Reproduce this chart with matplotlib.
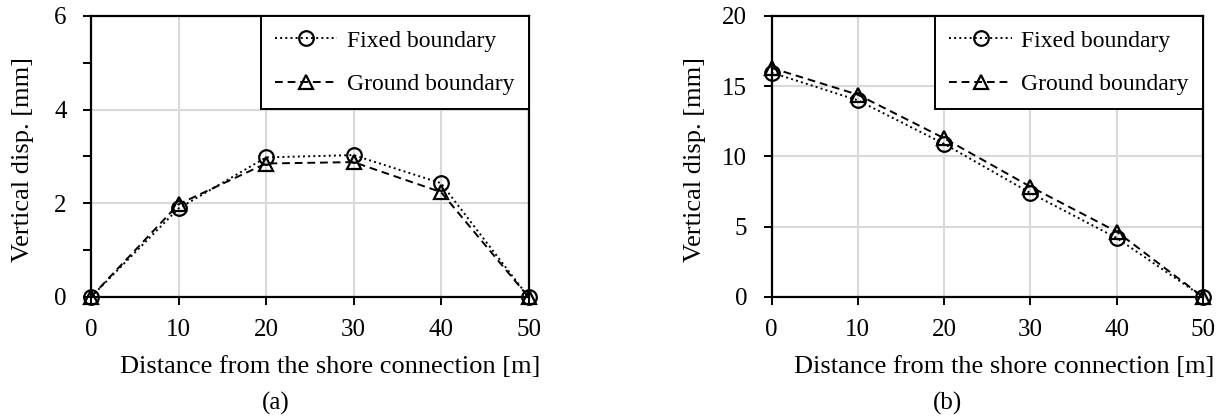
import numpy as np
import matplotlib
matplotlib.use("Agg")
import matplotlib.pyplot as plt
from matplotlib.ticker import MultipleLocator

plt.rcParams["font.family"] = ["Liberation Serif", "DejaVu Serif"]
plt.rcParams["font.size"] = 18

# distance from shore connection [m]
distance = [0, 10, 20, 30, 40, 50]

# (a) vertical displacement [mm]
fixed_a = [0.0, 1.89, 2.98, 3.03, 2.43, 0.0]
ground_a = [0.0, 1.98, 2.85, 2.88, 2.24, 0.0]

# (b) vertical displacement [mm]
fixed_b = [15.97, 14.0, 10.9, 7.4, 4.2, 0.0]
ground_b = [16.3, 14.4, 11.3, 7.85, 4.65, 0.0]

xlabel = "Distance from the shore connection [m]"
ylabel = "Vertical disp. [mm]"


def draw_panel(ax, fixed, ground, ymax, ystep, yminor=None, ylab_x=-0.16):
    ax.plot(distance, fixed, linestyle=":", color="black", lw=1.4,
            marker="o", markersize=10.5, markerfacecolor="none",
            markeredgewidth=1.6, label="Fixed boundary", clip_on=False, zorder=4)
    ax.plot(distance, ground, linestyle=(0, (4, 2.5)), color="black", lw=1.4,
            marker="^", markersize=10.5, markerfacecolor="none",
            markeredgewidth=1.6, label="Ground boundary", clip_on=False, zorder=4)
    ax.set_xlim(0, 50)
    ax.set_ylim(0, ymax)
    ax.xaxis.set_major_locator(MultipleLocator(10))
    ax.yaxis.set_major_locator(MultipleLocator(ystep))
    if yminor:
        ax.yaxis.set_minor_locator(MultipleLocator(yminor))
    ax.grid(True, color="#d9d9d9", lw=1.5, zorder=0)
    ax.set_axisbelow(True)
    for s in ax.spines.values():
        s.set_linewidth(1.6)
        s.set_color("black")
    ax.tick_params(which="both", direction="out", length=6, width=1.4, labelsize=18)
    ax.tick_params(axis="x", pad=10)
    ax.tick_params(axis="y", pad=11.5)
    ax.set_ylabel(ylabel, fontsize=19)
    ax.yaxis.label.set_va("center")
    ax.yaxis.set_label_coords(ylab_x, 0.49)
    ax.set_xlabel(xlabel, fontsize=19, loc="right")
    ax.xaxis.label.set_va("baseline")
    ax.xaxis.set_label_coords(1.027, -0.2705)
    leg = ax.legend(loc="upper right", borderaxespad=0, fancybox=False,
                    edgecolor="black", framealpha=1, fontsize=17,
                    handlelength=2.65, labelspacing=0.92, borderpad=0.6,
                    handletextpad=0.4)
    leg.get_frame().set_linewidth(1.4)


fig = plt.figure(figsize=(12.23, 4.16), dpi=100)
ax1 = fig.add_axes([91 / 1223, 0.2861, 437.5 / 1223, 0.6755])
ax2 = fig.add_axes([771.5 / 1223, 0.2861, 431.5 / 1223, 0.6755])

draw_panel(ax1, fixed_a, ground_a, 6, 2, 1, ylab_x=(23 - 91) / 437.5)
draw_panel(ax2, fixed_b, ground_b, 20, 5, ylab_x=(695 - 771.5) / 431.5)

fig.text(276 / 1223, 1 - 403 / 416, "(a)", ha="center", va="center", fontsize=18)
fig.text(948 / 1223, 1 - 403 / 416, "(b)", ha="center", va="center", fontsize=18)

fig.savefig("out.png", dpi=100)
